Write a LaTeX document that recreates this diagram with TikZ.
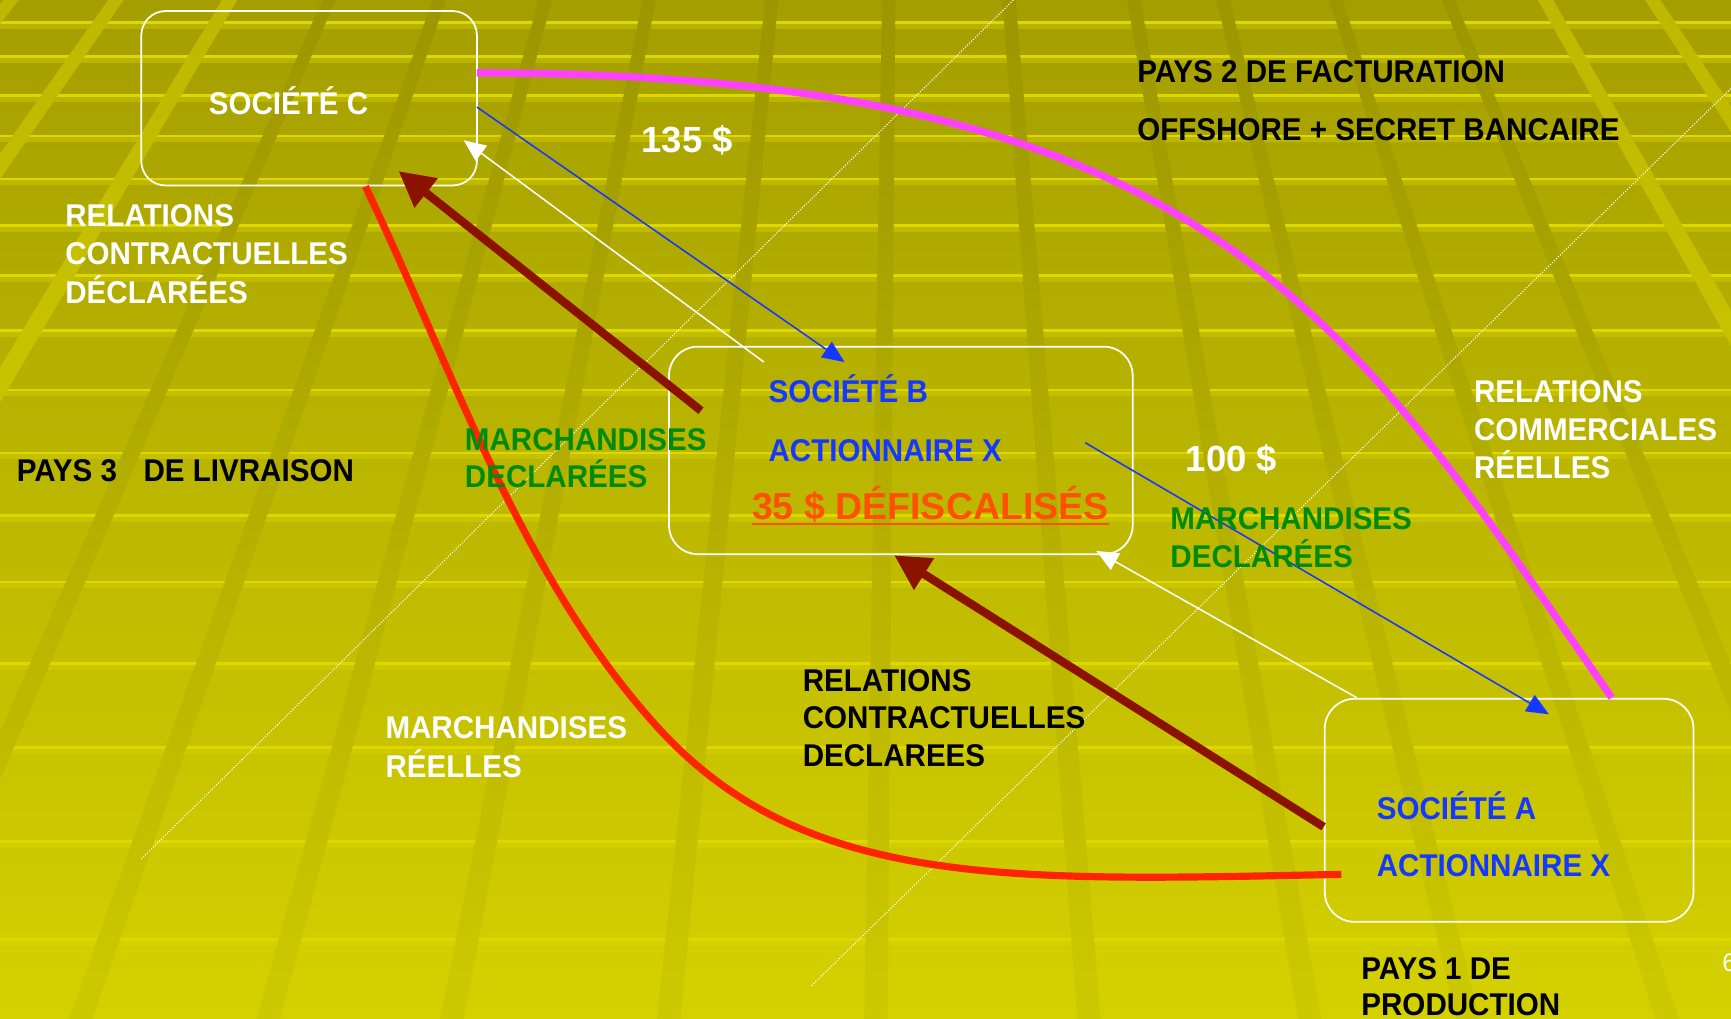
\documentclass[tikz,border=0pt]{standalone}
\usepackage{fontspec}
\setmainfont{Liberation Sans}
\newfontfamily\condsans{Liberation Sans}[FakeStretch=0.94]
\usetikzlibrary{arrows.meta}
\definecolor{bgtop}{RGB}{164,158,0}
\definecolor{bgbot}{RGB}{213,209,0}
\definecolor{stripe}{RGB}{222,216,0}
\definecolor{darktop}{RGB}{156,150,0}
\definecolor{darkbot}{RGB}{205,201,0}
\definecolor{lighttop}{RGB}{190,184,0}
\definecolor{lightbot}{RGB}{218,214,0}
\definecolor{magentaL}{RGB}{255,64,255}
\definecolor{redL}{RGB}{255,36,0}
\definecolor{darkredL}{RGB}{140,18,0}
\definecolor{blueT}{RGB}{20,56,255}
\definecolor{greenT}{RGB}{0,140,10}
\definecolor{orangeT}{RGB}{255,80,0}
\begin{document}
\begin{tikzpicture}[x=1pt,y=-1pt,
  box/.style={draw=white, line width=1.6pt, inner sep=0pt},
  lab/.style={inner sep=0pt, anchor=base west, font=\condsans\bfseries\fontsize{28.5}{32}\selectfont},
  big/.style={inner sep=0pt, anchor=base west, font=\bfseries\fontsize{33}{38}\selectfont},
  bigger/.style={inner sep=0pt, anchor=base west, font=\bfseries\fontsize{34}{38}\selectfont},
  thinarrow/.style={line width=1.4pt, -{Triangle[length=20pt,width=17pt]}},
  fatarrow/.style={draw=darkredL, line width=7.5pt, -{Triangle[length=32pt,width=32pt]}},
  dotline/.style={white, line width=1pt, dash pattern=on 1pt off 1.5pt},
]
\useasboundingbox (0,0) rectangle (1568,923);
\clip (0,0) rectangle (1568,923);
% background
\shade[top color=bgtop, bottom color=bgbot] (0,0) rectangle (1568,923);
\foreach \y in {19,50,85,122,161,203,248,298,352,409,466,526,600,676,761,850}{
  \fill[stripe] (0,\y) rectangle (1568,\y+2.5);
  \fill[stripe,opacity=.35] (0,\y+2.5) rectangle (1568,\y+7);
}
\begin{scope}
  \clip \foreach \x in {298,398,494,588,699,805,914,1027,1108,1210,1312}{
    (\x-6,0) -- (\x+6,0) -- ({820+(\x+6-820)*1.77},923) -- ({820+(\x-6-820)*1.77},923) -- cycle};
  \shade[top color=darktop, bottom color=darkbot] (0,0) rectangle (1568,923);
\end{scope}
\begin{scope}
  \clip \foreach \x in {10,105,208,1400,1497}{
    (\x-7,0) -- (\x+7,0) -- ({820+(\x+7-820)*1.9},923) -- ({820+(\x-7-820)*1.9},923) -- cycle};
  \shade[top color=lighttop, bottom color=lightbot] (0,0) rectangle (1568,923);
\end{scope}
% dotted diagonals
\coordinate (d1a) at (128,778); \coordinate (d1b) at (918,0);
\coordinate (d2a) at (735,893); \coordinate (d2b) at (1568,80);
\draw[dotline] (d1a) -- (d1b);
\draw[dotline] (d2a) -- (d2b);
% boxes
\node[box, rounded corners=22pt, minimum width=304pt, minimum height=158pt] (C) at (280,89) {};
\node[box, rounded corners=26pt, minimum width=420pt, minimum height=188pt] (B) at (816,408) {};
\node[box, rounded corners=27pt, minimum width=334pt, minimum height=202pt] (A) at (1367,734) {};
% connector end points
\coordinate (c1) at (432,66);   \coordinate (a1) at (1460,632);
\coordinate (c2) at (331,169);  \coordinate (r1) at (595,658); \coordinate (a2) at (1215,792);
\coordinate (c3) at (432,97);   \coordinate (b1) at (765,328);
\coordinate (b2) at (692,328);  \coordinate (c4) at (420,127);
\coordinate (b3) at (635,372);  \coordinate (c5) at (361,155);
\coordinate (b4) at (983,401);  \coordinate (a3) at (1403,647);
\coordinate (a4) at (1229,632); \coordinate (b5) at (993,499);
\coordinate (a5) at (1199,749); \coordinate (b6) at (810,503);
% connectors
\draw[magentaL, line width=6.6pt] (c1) .. controls (1100,66) and (1221,288) .. (a1);
\draw[redL, line width=6.5pt] (c2) .. controls (411,336) and (471,521) .. (r1) .. controls (729,806) and (915,798) .. (a2);
\draw[blueT, thinarrow] (c3) -- (b1);
\draw[white, thinarrow] (b2) -- (c4);
\draw[fatarrow] (b3) -- (c5);
\draw[blueT, thinarrow] (b4) -- (a3);
\draw[white, thinarrow] (a4) -- (b5);
\draw[fatarrow] (a5) -- (b6);
% texts
\node[lab, white] (tC) at (189,104) {SOCIÉTÉ C};
\node[lab, white] (rcd1) at (59,205) {RELATIONS};
\node[lab, white] (rcd2) at (59,240) {CONTRACTUELLES};
\node[lab, white] (rcd3) at (59,275) {DÉCLARÉES};
\node[lab, black] (p3) at (15,436) {PAYS 3\hspace{24pt}DE LIVRAISON};
\node[lab, greenT] (md1) at (421,408) {MARCHANDISES};
\node[lab, greenT] (md2) at (421,442) {DECLARÉES};
\node[big, white] (m135) at (581,138) {135 \$};
\node[lab, blueT] (tB1) at (696,365) {SOCIÉTÉ B};
\node[lab, blueT] (tB2) at (696,418) {ACTIONNAIRE X};
\node[bigger, orangeT] (def) at (681,471) {35 \$ DÉFISCALISÉS};
\draw[orangeT, line width=2pt] ([yshift=-3.5pt]def.base west) -- ([yshift=-3.5pt]def.base east);
\node[lab, black] (p2a) at (1030,75) {PAYS 2 DE FACTURATION};
\node[lab, black] (p2b) at (1030,127) {OFFSHORE + SECRET BANCAIRE};
\node[lab, white] (rcr1) at (1335,365) {RELATIONS};
\node[lab, white] (rcr2) at (1335,399) {COMMERCIALES};
\node[lab, white] (rcr3) at (1335,433) {RÉELLES};
\node[big, white] (m100) at (1074,427) {100 \$};
\node[lab, greenT] (me1) at (1060,480) {MARCHANDISES};
\node[lab, greenT] (me2) at (1060,514) {DECLARÉES};
\node[lab, blueT] (tA1) at (1247,742) {SOCIÉTÉ A};
\node[lab, blueT] (tA2) at (1247,794) {ACTIONNAIRE X};
\node[lab, black] (p1a) at (1233,887) {PAYS 1 DE};
\node[lab, black] (p1b) at (1233,920) {PRODUCTION};
\node[lab, black] (rce1) at (727,626) {RELATIONS};
\node[lab, black] (rce2) at (727,660) {CONTRACTUELLES};
\node[lab, black] (rce3) at (727,694) {DECLAREES};
\node[lab, white] (mr1) at (349,669) {MARCHANDISES};
\node[lab, white] (mr2) at (349,704) {RÉELLES};
\node[inner sep=0pt, anchor=base west, white, font=\fontsize{23}{26}\selectfont] (pg) at (1560,880) {6};
\end{tikzpicture}
\end{document}
